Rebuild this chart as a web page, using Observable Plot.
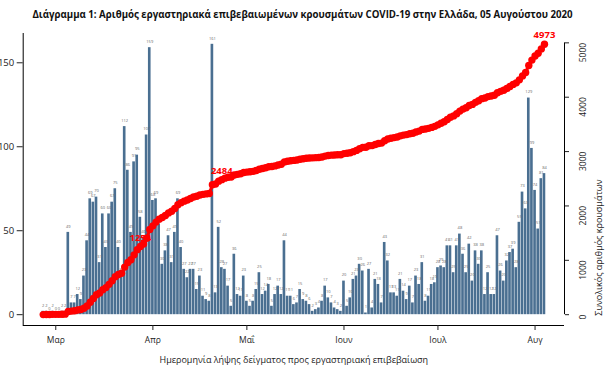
<!DOCTYPE html>
<html>
<head>
<meta charset="utf-8">
<script src="https://cdn.jsdelivr.net/npm/d3@7"></script>
<script src="https://cdn.jsdelivr.net/npm/@observablehq/plot@0.6"></script>
<style>
  body { margin: 0; background: #fff; }
  #title { width: 605px; height: 24px; box-sizing: border-box; padding-top: 3px; text-align: center;
           font: bold 12px "Liberation Sans Narrow", "Open Sans", sans-serif; line-height: 24px;
           white-space: nowrap; color: #111; }
  #title span { display: inline-block; }
</style>
</head>
<body>
<div id="title"><span>Διάγραμμα 1: Αριθμός εργαστηριακά επιβεβαιωμένων κρουσμάτων COVID-19 στην Ελλάδα, 05 Αυγούστου 2020</span></div>
<div id="chart"></div>
<script>
// ---- data ----
const startDate = "2020-02-26";
const dailyCases = [
  2, 2, 0, 2, 0, 0, 2, 2,
  49, 7, 7, 12, 9, 23, 44, 69, 67, 70,
  31, 60, 40, 60, 67, 75, 40, 23, 112, 86,
  49, 91, 95, 58, 46, 107, 159, 68, 69, 54,
  30, 38, 47, 31, 49, 69, 40, 27, 22, 27,
  27, 15, 23, 11, 9, 8, 161, 13, 52, 28,
  27, 17, 5, 36, 12, 11, 23, 8, 5, 8,
  15, 25, 12, 14, 18, 5, 12, 17, 12, 44,
  11, 11, 6, 7, 15, 9, 8, 6, 2, 3,
  4, 8, 17, 10, 7, 4, 3, 2, 20, 5,
  10, 21, 23, 30, 26, 1, 27, 4, 21, 18,
  7, 43, 32, 13, 13, 11, 21, 14, 9, 17,
  7, 23, 18, 31, 8, 11, 18, 19, 28, 29,
  28, 41, 41, 25, 41, 48, 36, 25, 42, 20,
  38, 30, 38, 12, 25, 12, 12, 47, 26, 20,
  32, 37, 39, 28, 55, 73, 63, 129, 99, 74,
  51, 81, 84
];
const monthTicks = ["2020-03-01", "2020-04-01", "2020-05-01", "2020-06-01", "2020-07-01", "2020-08-01"];
const monthLabels = ["Μαρ", "Απρ", "Μαΐ", "Ιουν", "Ιουλ", "Αυγ"];
const leftTicks = [0, 50, 100, 150];
const rightTicks = [0, 1000, 2000, 3000, 4000, 5000];
const annotatedDates = ["2020-03-28", "2020-04-23", "2020-08-04"];
const xTitle = "Ημερομηνία λήψης δείγματος προς εργαστηριακή επιβεβαίωση";
const rightTitle = "Συνολικός αριθμός κρουσμάτων";

// ---- build ----
const DAY = 864e5;
const utc = s => new Date(s + "T00:00:00Z");
const t0 = +utc(startDate);
const cum = Array.from(d3.cumsum(dailyCases));
const rows = dailyCases.map((v, i) => ({date: new Date(t0 + i * DAY), value: v, cum: cum[i]}));
const n = rows.length;
const pad = 0.04 * (n - 1);
const xDomain = [new Date(t0 - pad * DAY), new Date(t0 + (n - 1 + pad) * DAY)];
const maxDaily = d3.max(dailyCases), maxCum = d3.max(cum);
const yDom = [-0.04 * maxDaily, 1.04 * maxDaily];
const rDom = [-0.04 * maxCum, 1.04 * maxCum];
const toLeft = c => yDom[0] + (c - rDom[0]) / (rDom[1] - rDom[0]) * (yDom[1] - yDom[0]);
const annRows = annotatedDates.map(s => rows.find(r => +r.date === +utc(s)));
const monthMap = new Map(monthTicks.map((s, i) => [+utc(s), monthLabels[i]]));

const font = '"Liberation Sans Narrow", "Open Sans", sans-serif';

const chart = Plot.plot({
  width: 605,
  height: 350,
  marginLeft: 22.7,
  marginRight: 41,
  marginTop: 9,
  marginBottom: 49,
  style: {fontFamily: font, fontSize: "8.5px", color: "#222", background: "#fff"},
  x: {type: "utc", domain: xDomain},
  y: {domain: yDom},
  marks: [
    Plot.rect(rows, {
      x1: d => new Date(+d.date - DAY / 2),
      x2: d => new Date(+d.date + DAY / 2),
      y1: 0, y2: "value",
      fill: "#4a6f91", insetLeft: 0.25, insetRight: 0.25
    }),
    Plot.text(rows, {x: "date", y: "value", text: d => String(d.value), dy: -6, fontSize: 4, fill: "#666"}),
    Plot.line(rows, {x: "date", y: d => toLeft(d.cum), stroke: "#ff0000", strokeWidth: 3}),
    Plot.dot(rows, {x: "date", y: d => toLeft(d.cum), r: 3.7, fill: "#ff0000"}),
    Plot.text(annRows, {x: "date", y: d => toLeft(d.cum), text: d => String(d.cum), dy: -9,
      fill: "#ff0000", fontWeight: "bold", fontSize: 9.5}),
    Plot.ruleX([xDomain[0]], {stroke: "#000"}),
    Plot.ruleY([yDom[0]], {stroke: "#000"}),
    Plot.ruleX([xDomain[1]], {y1: toLeft(0), y2: toLeft(5000), stroke: "#000"}),
    Plot.axisY(leftTicks, {anchor: "left", tickSize: 6, tickPadding: 3, label: null,
      fontSize: 9.5, fontFamily: '"Open Sans", sans-serif'}),
    Plot.axisY(rightTicks.map(toLeft), {anchor: "right", tickSize: 4, tickFormat: () => "", label: null}),
    Plot.text(rightTicks, {y: d => toLeft(d), text: d => String(d), frameAnchor: "right", dx: 19,
      rotate: -90, fontSize: 8.5, fill: "#222"}),
    Plot.axisX(monthTicks.map(utc), {anchor: "bottom", tickSize: 5, tickPadding: 6,
      tickFormat: d => monthMap.get(+d), label: null, fontSize: 8.5}),
    Plot.text([xTitle], {frameAnchor: "bottom", dy: 37, fontSize: 9, fill: "#222"}),
    Plot.text([rightTitle], {frameAnchor: "right", dx: 35, rotate: -90, fontSize: 9, fill: "#222"})
  ]
});
document.getElementById("chart").appendChild(chart);

// fit title width to the reference span
const span = document.querySelector("#title span");
const w = span.getBoundingClientRect().width;
if (w > 0) {
  document.getElementById("title").style.fontSize = (12 * 541 / w).toFixed(2) + "px";
}
</script>
</body>
</html>
